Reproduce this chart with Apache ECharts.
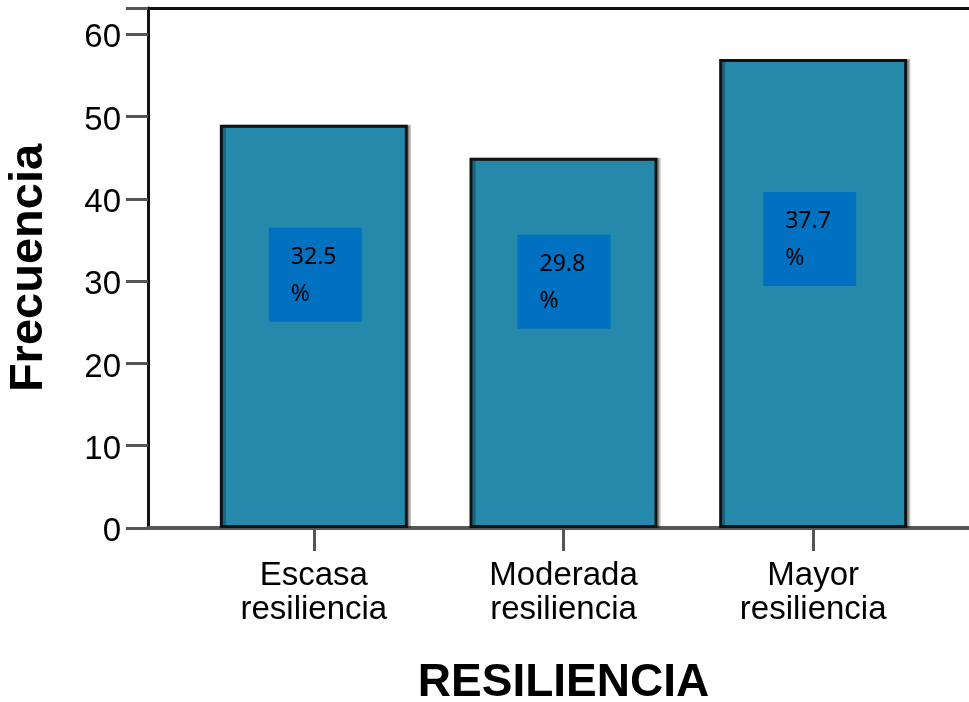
<!DOCTYPE html>
<html>
<head>
<meta charset="utf-8">
<script src="https://cdn.jsdelivr.net/npm/echarts@6/dist/echarts.min.js"></script>
<style>
  html, body { margin: 0; padding: 0; background: #fff; }
  #chart { width: 969px; height: 702px; }
</style>
</head>
<body>
<div id="chart"></div>
<script>
// Frequency of each resilience level
const categories = ['Escasa\nresiliencia', 'Moderada\nresiliencia', 'Mayor\nresiliencia'];
const frequencies = [49, 45, 57];
const yTicks = [0, 10, 20, 30, 40, 50, 60];

// Share of each level over the total, one decimal
const total = frequencies.reduce((a, b) => a + b, 0);
const percents = frequencies.map(v => (v / total * 100).toFixed(1));

// Where each percentage box sits, relative to the top-left corner of its bar
const boxOffsets = [[49, 103], [48, 77], [44, 133]];

const FONT = '"Liberation Sans", Arial, sans-serif';
const Y_MAX = 63.2;

const chart = echarts.init(document.getElementById('chart'), null, { renderer: 'canvas' });

chart.setOption({
  animation: false,
  backgroundColor: '#fff',
  grid: [
    // frame with the value axis
    { left: 148, right: 0, top: 8, bottom: 174, outerBoundsMode: 'none' },
    // the bars and category labels
    { left: 189, width: 749, top: 8, bottom: 174, outerBoundsMode: 'none' }
  ],
  xAxis: [
    {
      gridIndex: 0, type: 'value', min: 0, max: 1, position: 'bottom',
      axisLine: { show: true, lineStyle: { color: '#585858', width: 4 } },
      axisTick: { show: false }, axisLabel: { show: false }, splitLine: { show: false }
    },
    {
      gridIndex: 0, type: 'value', min: 0, max: 1, position: 'top',
      axisLine: { show: true, lineStyle: { color: '#111', width: 3 } },
      axisTick: { show: false }, axisLabel: { show: false }, splitLine: { show: false }
    },
    {
      gridIndex: 1, type: 'category', data: categories, position: 'bottom',
      axisLine: { show: false },
      axisTick: { show: true, alignWithLabel: true, interval: 0, length: 23,
                  lineStyle: { color: '#555', width: 3 } },
      axisLabel: { interval: 0, margin: 31, fontFamily: FONT, fontSize: 33,
                   lineHeight: 34, color: '#000' },
      name: 'RESILIENCIA', nameLocation: 'middle', nameGap: 132,
      nameTextStyle: { fontFamily: FONT, fontSize: 46, fontWeight: 'bold', color: '#000' }
    }
  ],
  yAxis: [
    {
      gridIndex: 0, type: 'value', min: 0, max: Y_MAX, interval: 10,
      axisLine: { show: true, lineStyle: { color: '#111', width: 3 } },
      axisTick: { show: true, length: 22, lineStyle: { color: '#555', width: 3 } },
      axisLabel: {
        margin: 27, fontFamily: FONT, fontSize: 33, color: '#000',
        verticalAlign: 'top', lineHeight: 8,
        formatter: v => (yTicks.indexOf(v) >= 0 ? String(v) : '')
      },
      splitLine: { show: false },
      name: 'Frecuencia', nameLocation: 'middle', nameGap: 95,
      nameTextStyle: { fontFamily: FONT, fontSize: 47, fontWeight: 'bold', color: '#000' }
    },
    {
      gridIndex: 1, type: 'value', min: 0, max: Y_MAX, interval: 10, show: false
    }
  ],
  series: [
    {
      type: 'bar',
      xAxisIndex: 2,
      yAxisIndex: 1,
      barWidth: 188,
      data: frequencies.map((v, i) => ({
        value: v,
        label: {
          show: true,
          position: boxOffsets[i],
          formatter: percents[i] + '\n%',
          backgroundColor: '#0070C0',
          padding: [11, 0, 9, 22],
          width: 71,
          height: 74,
          fontFamily: '"Noto Sans", sans-serif',
          fontSize: 23,
          lineHeight: 37,
          color: '#000',
          align: 'left',
          verticalAlign: 'top'
        }
      })),
      itemStyle: {
        color: '#2489AB',
        borderColor: '#111',
        borderWidth: 3,
        shadowColor: 'rgba(0,0,0,0.28)',
        shadowOffsetX: 3,
        shadowBlur: 0
      }
    }
  ]
});
</script>
</body>
</html>
